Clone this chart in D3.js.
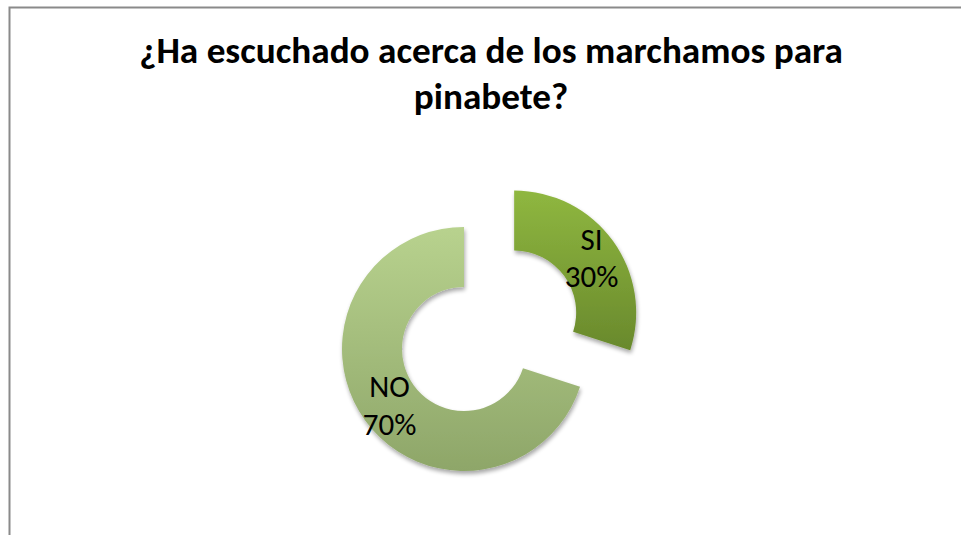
<!DOCTYPE html>
<html>
<head>
<meta charset="utf-8">
<script src="https://cdn.jsdelivr.net/npm/d3@7"></script>
<style>
  html, body { margin: 0; padding: 0; background: #fff; }
  svg { display: block; }
</style>
</head>
<body>
<svg id="chart" width="961" height="535"></svg>
<script>
// ---- data ----
const titleLines = ["¿Ha escuchado acerca de los marchamos para", "pinabete?"];
const categories = ["SI", "NO"];
const values = [30, 70];
const percentLabels = ["30%", "70%"];
const explode = [true, false];

// ---- styles ----
const gradients = [
  { top: "#8fb740", bottom: "#69892c" },
  { top: "#b8d28e", bottom: "#8ea669" }
];

const W = 961, H = 535;
const svg = d3.select("#chart");
const defs = svg.append("defs");

// frame
svg.append("path")
  .attr("d", `M9.5,${H} L9.5,7.5 L${W},7.5`)
  .attr("fill", "none")
  .attr("stroke", "#8a8a8a")
  .attr("stroke-width", 2);

// title
const title = svg.append("text")
  .attr("text-anchor", "middle")
  .attr("font-family", "Carlito, Lato, 'Open Sans', sans-serif")
  .attr("font-weight", "bold")
  .attr("font-size", 30)
  .attr("fill", "#000");
titleLines.forEach((t, i) => {
  title.append("tspan").attr("x", 491).attr("y", 63 + i * 46).text(t);
});
// fit title width to the reference frame width of the first line
const firstLine = title.select("tspan").node();
const w0 = firstLine.getComputedTextLength();
title.attr("font-size", 30 * 704 / w0);

// shadow filter
const f = defs.append("filter").attr("id", "shadow")
  .attr("x", "-20%").attr("y", "-20%").attr("width", "140%").attr("height", "140%");
f.append("feGaussianBlur").attr("in", "SourceAlpha").attr("stdDeviation", 2).attr("result", "b");
f.append("feOffset").attr("in", "b").attr("dx", 1).attr("dy", 3).attr("result", "o");
f.append("feComponentTransfer").attr("in", "o").attr("result", "s")
  .append("feFuncA").attr("type", "linear").attr("slope", 0.35);
const fm = f.append("feMerge");
fm.append("feMergeNode").attr("in", "s");
fm.append("feMergeNode").attr("in", "SourceGraphic");

gradients.forEach((g, i) => {
  const lg = defs.append("linearGradient").attr("id", "grad" + i)
    .attr("x1", 0).attr("y1", 0).attr("x2", 0).attr("y2", 1);
  lg.append("stop").attr("offset", "0%").attr("stop-color", g.top);
  lg.append("stop").attr("offset", "100%").attr("stop-color", g.bottom);
});

const cx = 464, cy = 349;
const outerR = 122, innerR = 62, explodeDist = 62;

const pie = d3.pie().sort(null).value(d => d);
const arcs = pie(values);
const arc = d3.arc().innerRadius(innerR).outerRadius(outerR);
const labelArc = d3.arc().innerRadius(92).outerRadius(92);

const g = svg.append("g").attr("transform", `translate(${cx},${cy})`);

const slices = g.selectAll("g.slice").data(arcs).enter().append("g")
  .attr("class", "slice")
  .attr("transform", (d, i) => {
    if (!explode[i]) return null;
    const a = (d.startAngle + d.endAngle) / 2;
    return `translate(${Math.sin(a) * explodeDist},${-Math.cos(a) * explodeDist})`;
  });

slices.append("path")
  .attr("d", arc)
  .attr("fill", (d, i) => `url(#grad${i})`)
  .attr("filter", "url(#shadow)");

const lbl = slices.append("text")
  .attr("text-anchor", "middle")
  .attr("font-family", "Carlito, Lato, 'Open Sans', sans-serif")
  .attr("font-size", 31)
  .attr("fill", "#000")
  .attr("transform", (d, i) => {
    const [x, y] = labelArc.centroid(d);
    return `translate(${x + (i === 0 ? 3 : 0)},${y})`;
  });
lbl.append("tspan").attr("x", 0).attr("y", (d, i) => i === 0 ? -8 : -6).text((d, i) => categories[i]);
lbl.append("tspan").attr("x", 0).attr("y", (d, i) => i === 0 ? 29 : 32).text((d, i) => percentLabels[i]);
</script>
</body>
</html>
